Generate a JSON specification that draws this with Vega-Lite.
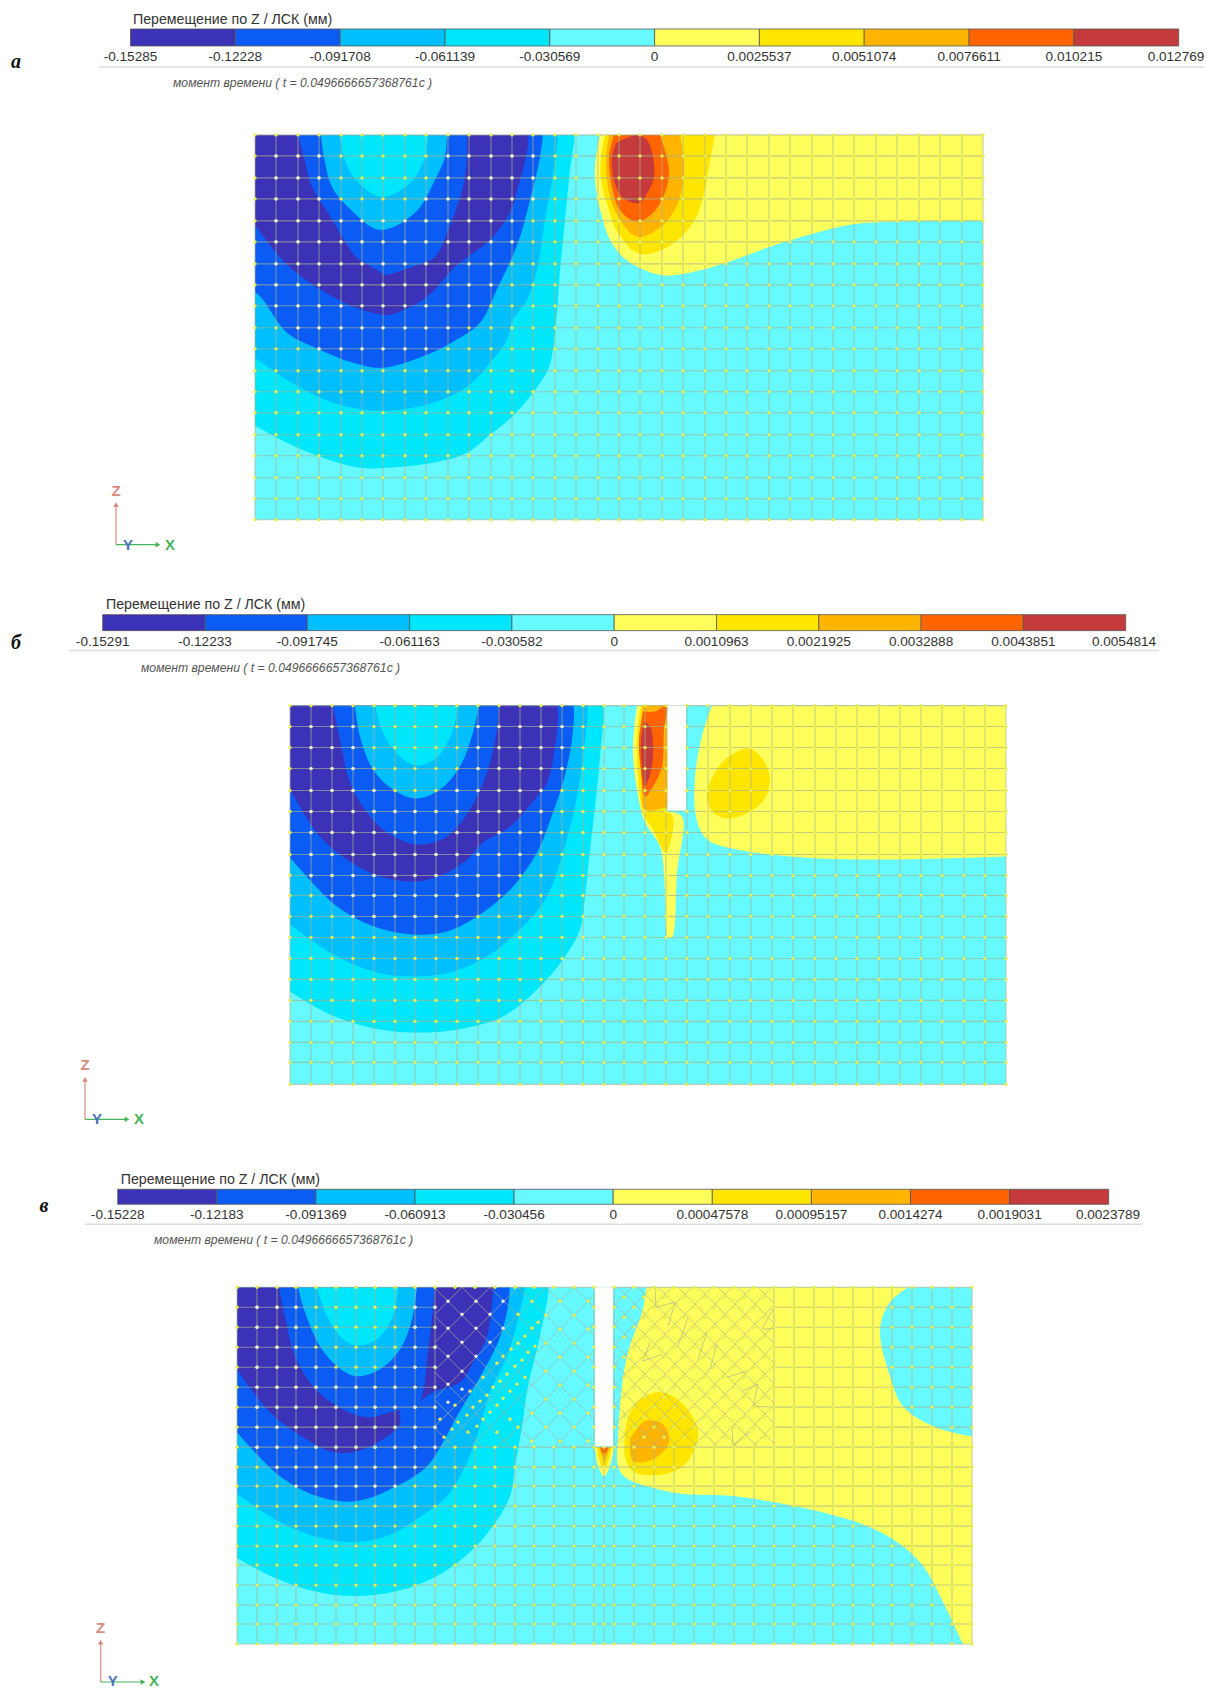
{
"$schema":"https://vega.github.io/schema/vega-lite/v6.json",
"width":1207,"height":1689,"autosize":{"type":"fit","contains":"padding"},"padding":0,"background":"white",
"config":{"view":{"stroke":null}},
"datasets":{
"plates":[{"band":"d5","x":255,"x2":983,"y":135,"y2":520},{"band":"d5","x":290,"x2":1006,"y":706,"y2":1085},{"band":"d5","x":237,"x2":972,"y":1288,"y2":1645}],
"bands":[
{"id":"a1","band":"d4","x":[255,572,574,570,565,560,558,555,553,548,533,512,490,467,433,387,360,320,287,255],"y":[135,135,135,170,220,270,300,333,350,370,393,417,435,453,463,468,468,457,443,426]},
{"id":"a2","band":"d3","x":[255,555,557,552,545,537,527,513,507,490,467,433,387,353,320,287,255],"y":[135,135,135,180,220,270,300,320,340,363,387,403,411,408,398,380,358]},
{"id":"a3","band":"d2","x":[255,540,542,540,530,518,498,480,453,427,383,353,320,287,263,255],"y":[135,135,135,157,200,243,287,323,342,355,368,363,350,333,300,292]},
{"id":"a4","band":"d1","x":[255,526,528,526,518,510,490,455,427,391,383,356,316,285,255],"y":[135,135,135,157,187,213,240,267,297,315,315,308,287,263,225]},
{"id":"a5","band":"d2","x":[298,304,312,328,344,356,380,384,410,435,447,463,467,467],"y":[135,157,187,213,240,257,272,275,268,257,233,187,157,135]},
{"id":"a6","band":"d3","x":[321,324,332,348,380,415,435,445,447],"y":[135,157,187,207,230,213,180,157,135]},
{"id":"a7","band":"d4","x":[340,344,356,382,411,425,428],"y":[135,157,180,197,182,157,135]},
{"id":"a8","band":"u1","x":[983,603,601,596,595,601,610,626,659,684,726,767,809,850,891,983],"y":[135,135,135,157,180,213,240,260,275,274,263,248,235,225,222,221]},
{"id":"a9","band":"u2","x":[605,601,601,608,618,639,668,693,703,709,715],"y":[135,157,180,207,233,254,247,223,197,167,135]},
{"id":"a10","band":"u3","x":[609,606,608,616,637,661,678,684,682,680],"y":[135,157,187,213,237,227,203,173,147,135]},
{"id":"a11","band":"u4","x":[614,609,612,620,637,653,666,669,664,660],"y":[135,157,187,210,222,213,190,170,147,135]},
{"id":"a12","band":"u5","x":[616,637,647,653,654,649,639,622,614,612,616],"y":[143,135,140,157,177,190,203,197,180,157,143]},
{"id":"b1","band":"d4","x":[290,601,603,600,595,590,585,580,563,537,503,457,410,370,330,290],"y":[706,706,706,757,807,850,897,930,960,990,1017,1030,1033,1028,1015,992]},
{"id":"b2","band":"d3","x":[290,585,587,583,575,563,547,523,487,450,413,377,337,290],"y":[706,706,706,757,807,853,897,927,957,973,977,973,957,925]},
{"id":"b3","band":"d2","x":[290,571,573,572,563,553,537,513,483,447,413,377,337,290],"y":[706,706,706,740,783,813,853,887,913,932,935,928,907,858]},
{"id":"b4","band":"d1","x":[290,555,557,557,547,537,510,483,467,443,417,380,350,320,290],"y":[706,706,706,733,783,797,827,843,860,875,882,877,862,837,790]},
{"id":"b5","band":"d2","x":[333,340,350,367,387,417,447,470,487,497,499],"y":[706,740,783,813,833,845,837,810,773,730,706]},
{"id":"b6","band":"d3","x":[355,360,373,393,416,440,460,473,479],"y":[706,737,770,790,799,790,767,733,706]},
{"id":"b7","band":"d4","x":[375,383,400,417,437,453,458],"y":[706,733,757,766,758,730,706]},
{"id":"b8","band":"u1","x":[1006,715,713,702,695,695,700,710,737,770,820,893,1006],"y":[706,706,706,737,777,810,830,842,850,855,859,860,857]},
{"id":"b9","band":"u2","x":[708,723,748,763,770,762,730,713,707,708],"y":[787,762,749,760,780,803,819,813,797,787]},
{"id":"b10","band":"u1","x":[667,640,638,634,633,637,645,660,665,668,672,677,682,667],"y":[706,706,706,730,757,790,823,847,890,938,938,873,817,812]},
{"id":"b11","band":"u2","x":[667,644,642,637,638,643,653,666,673,667],"y":[706,706,706,740,777,813,830,853,817,812]},
{"id":"b12","band":"u3","x":[643,640,642,645,666,667,667],"y":[706,740,783,810,808,808,706]},
{"id":"b13","band":"u4","x":[643,655,662,667,664,662,653,645,641,639,643],"y":[712,712,708,706,730,767,787,797,773,740,712]},
{"id":"b14","band":"u5","x":[644,650,653,652,645,642,641,644],"y":[722,727,743,767,787,767,740,722]},
{"id":"c1","band":"d4","x":[237,546,548,540,528,522,515,510,493,470,437,397,353,313,273,237],"y":[1288,1288,1288,1337,1387,1427,1467,1497,1527,1553,1577,1592,1597,1592,1578,1559]},
{"id":"c2","band":"d3","x":[237,522,524,518,507,490,480,467,447,420,387,353,317,280,237],"y":[1288,1288,1288,1320,1357,1393,1427,1463,1497,1518,1537,1543,1538,1523,1495]},
{"id":"c3","band":"d2","x":[237,507,509,507,498,477,457,443,427,397,357,320,280,237],"y":[1288,1288,1288,1313,1343,1383,1417,1443,1467,1487,1502,1498,1477,1433]},
{"id":"c4","band":"d1","x":[237,491,493,492,487,475,460,433,413,400,400,383,357,333,303,270,237],"y":[1288,1288,1288,1303,1337,1360,1383,1393,1407,1412,1425,1440,1452,1453,1438,1413,1370]},
{"id":"c5","band":"d2","x":[279,285,295,313,337,367,393,417,423,428,433,435],"y":[1288,1317,1357,1387,1407,1418,1412,1407,1393,1353,1310,1288]},
{"id":"c6","band":"d3","x":[298,305,320,337,356,380,400,412,417],"y":[1288,1313,1347,1367,1377,1370,1350,1320,1288]},
{"id":"c7","band":"d4","x":[317,327,343,357,377,393,398],"y":[1288,1317,1340,1346,1340,1317,1288]},
{"id":"c8","band":"u1","x":[908,649,647,643,628,622,618,618,625,650,683,733,767,817,867,900,923,940,962,963,964,971,972,972,972,972,971,933,903,890,880,890,908],"y":[1288,1288,1288,1310,1353,1387,1437,1467,1478,1488,1495,1497,1502,1512,1527,1545,1567,1597,1643,1645,1645,1645,1645,1644,1438,1437,1437,1427,1407,1377,1330,1303,1288]},
{"id":"c9","band":"u2","x":[625,633,657,680,697,697,683,657,633,625,625],"y":[1433,1407,1393,1402,1427,1443,1467,1476,1472,1457,1433]},
{"id":"c10","band":"u3","x":[630,645,663,669,653,633,630],"y":[1440,1422,1425,1443,1460,1462,1440]},
{"id":"c11","band":"u1","x":[595,598,604,610,614],"y":[1448,1467,1477,1467,1448]},
{"id":"c12","band":"u2","x":[597,600,604,608,612],"y":[1448,1463,1470,1463,1448]},
{"id":"c13","band":"u3","x":[599,602,604,607,610],"y":[1448,1457,1463,1457,1448]},
{"id":"c14","band":"u4","x":[600,604,609],"y":[1448,1455,1448]}
],
"verticals":[
{"x":[255,276,298,319,341,362,383,405,426,448,469,491,512,533,555,576,598,619,640,662,683,705,726,747,769,790,812,833,854,876,897,919,940,962,983],"y":135,"y2":520},
{"x":[290,311,332,353,374,395,415,436,457,478,499,520,541,562,583,604,624,645,666,687,708,730,751,772,793,815,836,857,879,900,921,942,964,985,1006],"y":706,"y2":1085},
{"x":[237,257,277,296,316,336,356,375,395,415,435,774,794,814,833,853,873,892,912,932,952,972],"y":1288,"y2":1645},
{"x":[455,475,495,515,534,554,574,594,604,614,634,654,674,694,714,734,754],"y":1448,"y2":1645},
{"x":[594,614],"y":1288,"y2":1448}
],
"horizontals":[
{"y":[135,156,178,199,221,242,264,285,306,328,349,371,392,413,435,456,478,499,520],"x":255,"x2":983},
{"y":[706,727,748,769,791,812,833,855,876,896,917,938,959,980,1001,1022,1043,1063,1085],"x":290,"x2":1006},
{"y":[1288,1308,1328,1348,1368,1388,1408,1428],"x":237,"x2":435},
{"y":[1288,1308,1328,1348,1368,1388,1408,1428],"x":774,"x2":972},
{"y":[1448,1468,1487,1507,1527,1547,1566,1586,1606,1625,1645],"x":237,"x2":972},
{"y":[1288],"x":435,"x2":774}
],
"diagonals":[
{"x":574,"y":1288,"x2":594,"y2":1308},{"x":546,"y":1288,"x2":594,"y2":1336},{"x":518,"y":1288,"x2":594,"y2":1364},{"x":490,"y":1288,"x2":594,"y2":1392},{"x":462,"y":1288,"x2":594,"y2":1420},{"x":435,"y":1289,"x2":593,"y2":1447},{"x":435,"y":1317,"x2":565,"y2":1447},{"x":435,"y":1345,"x2":537,"y2":1447},{"x":435,"y":1373,"x2":509,"y2":1447},{"x":435,"y":1401,"x2":481,"y2":1447},{"x":435,"y":1429,"x2":453,"y2":1447},
{"x":435,"y":1315,"x2":462,"y2":1288},{"x":435,"y":1343,"x2":490,"y2":1288},{"x":435,"y":1371,"x2":518,"y2":1288},{"x":435,"y":1399,"x2":546,"y2":1288},{"x":435,"y":1427,"x2":574,"y2":1288},{"x":443,"y":1447,"x2":594,"y2":1296},{"x":471,"y":1447,"x2":594,"y2":1324},{"x":499,"y":1447,"x2":594,"y2":1352},{"x":527,"y":1447,"x2":594,"y2":1380},{"x":555,"y":1447,"x2":594,"y2":1408},{"x":583,"y":1447,"x2":594,"y2":1436},
{"x":758,"y":1288,"x2":774,"y2":1304},{"x":738,"y":1288,"x2":774,"y2":1324},{"x":718,"y":1288,"x2":774,"y2":1344},{"x":698,"y":1288,"x2":774,"y2":1364},{"x":678,"y":1288,"x2":774,"y2":1384},{"x":658,"y":1288,"x2":774,"y2":1404},{"x":638,"y":1288,"x2":774,"y2":1424},{"x":618,"y":1288,"x2":774,"y2":1444},{"x":614,"y":1304,"x2":757,"y2":1447},{"x":614,"y":1324,"x2":737,"y2":1447},{"x":614,"y":1344,"x2":717,"y2":1447},{"x":614,"y":1364,"x2":697,"y2":1447},{"x":614,"y":1384,"x2":677,"y2":1447},{"x":614,"y":1404,"x2":657,"y2":1447},{"x":614,"y":1424,"x2":637,"y2":1447},
{"x":614,"y":1306,"x2":632,"y2":1288},{"x":614,"y":1326,"x2":652,"y2":1288},{"x":614,"y":1346,"x2":672,"y2":1288},{"x":614,"y":1366,"x2":692,"y2":1288},{"x":614,"y":1386,"x2":712,"y2":1288},{"x":614,"y":1406,"x2":732,"y2":1288},{"x":614,"y":1426,"x2":752,"y2":1288},{"x":614,"y":1446,"x2":772,"y2":1288},{"x":633,"y":1447,"x2":774,"y2":1306},{"x":653,"y":1447,"x2":774,"y2":1326},{"x":673,"y":1447,"x2":774,"y2":1346},{"x":693,"y":1447,"x2":774,"y2":1366},{"x":713,"y":1447,"x2":774,"y2":1386},{"x":733,"y":1447,"x2":774,"y2":1406},{"x":753,"y":1447,"x2":774,"y2":1426},
{"x":643,"y":1362,"x2":650,"y2":1343},{"x":643,"y":1362,"x2":662,"y2":1355},{"x":707,"y":1333,"x2":698,"y2":1360},{"x":717,"y":1345,"x2":710,"y2":1370},{"x":688,"y":1318,"x2":678,"y2":1347},{"x":675,"y":1303,"x2":668,"y2":1327},{"x":733,"y":1447,"x2":732,"y2":1427},{"x":733,"y":1447,"x2":750,"y2":1433},{"x":753,"y":1407,"x2":773,"y2":1408},{"x":727,"y":1378,"x2":747,"y2":1372},{"x":742,"y":1392,"x2":758,"y2":1385},{"x":758,"y":1385,"x2":753,"y2":1407},{"x":763,"y":1330,"x2":774,"y2":1329},{"x":774,"y":1308,"x2":762,"y2":1330},{"x":655,"y":1288,"x2":656,"y2":1308},{"x":656,"y":1308,"x2":675,"y2":1303}
],
"slots":[{"x":667.5,"x2":686,"y":706,"y2":811},{"x":595,"x2":613,"y":1288,"y2":1447}],
"nodes":[
{"x":[255,276,298,319,341,362,383,405,426,448,469,491,512,533,555,576,598,619,640,662,683,705,726,747,769,790,812,833,854,876,897,919,940,962,983],"y":[135,156,178,199,221,242,264,285,306,328,349,371,392,413,435,456,478,499,520]},
{"x":[290,311,332,353,374,395,415,436,457,478,499,520,541,562,583,604,624,645,666,687,708,730,751,772,793,815,836,857,879,900,921,942,964,985,1006],"y":[706,727,748,769,791,812,833,855,876,896,917,938,959,980,1001,1022,1043,1063,1085]},
{"x":[237,257,277,296,316,336,356,375,395,415,435,774,794,814,833,853,873,892,912,932,952,972],"y":[1288,1308,1328,1348,1368,1388,1408,1428,1448,1468,1487,1507,1527,1547,1566,1586,1606,1625,1645]},
{"x":[455,475,495,515,534,554,574,594,604,614,634,654,674,694,714,734,754],"y":[1448,1468,1487,1507,1527,1547,1566,1586,1606,1625,1645]},
{"x":[594,614],"y":[1288,1308,1328,1348,1368,1388,1408,1428]},
{"x":[455,475,495,515,534,554,574,634,654,674,694,714,734,754],"y":[1288]},
{"x":[560,588],"y":[1302,1330,1358,1386,1414,1442]},
{"x":[546,574],"y":[1316,1344,1372,1400,1428]},
{"x":[532],"y":[1414,1442]},{"x":[518],"y":[1428]},
{"x":[624,644,664,684,704,724,744,764],"y":[1298,1318,1338,1358,1378,1398,1418,1438]},
{"x":[634,654,674,694,714,734,754],"y":[1308,1328,1348,1368,1388,1408,1428]},
{"x":[532],"y":[1302,1329]},{"x":[518],"y":[1315,1344]},{"x":[538],"y":[1323]},{"x":[525],"y":[1337,1378]},{"x":[511],"y":[1350]},{"x":[503],"y":[1357,1399]},{"x":[497],"y":[1364,1406,1433]},{"x":[483],"y":[1378,1420]},{"x":[470],"y":[1392]},{"x":[455],"y":[1406]},{"x":[440],"y":[1420]},{"x":[535],"y":[1347]},{"x":[528],"y":[1353]},{"x":[522],"y":[1361]},{"x":[515],"y":[1367]},{"x":[507],"y":[1375]},{"x":[500],"y":[1382]},{"x":[493],"y":[1388]},{"x":[487],"y":[1396]},{"x":[480],"y":[1402]},{"x":[473],"y":[1408]},{"x":[467],"y":[1416]},{"x":[458],"y":[1423]},{"x":[452],"y":[1430]},{"x":[444],"y":[1438]},{"x":[517],"y":[1385]},{"x":[510],"y":[1392,1420]},{"x":[490],"y":[1413]},{"x":[477],"y":[1427]},{"x":[468],"y":[1433]}
],
"paleNodes":[
{"x":[276,298,319,448,469,491,512,533],"y":[156,178]},
{"x":[276,298,319,426,448,469,491,512,533],"y":[199]},
{"x":[276,298,319,341,362,383,405,426,448,469,491,512],"y":[221,242]},
{"x":[276,298,319,341,362,383,405,426,448,469,491],"y":[264,285]},
{"x":[276,298,319,341,362,383,405,426,448,469],"y":[306]},
{"x":[298,319,341,362,383,405,426,448],"y":[328]},
{"x":[319,341,362,383,405,426],"y":[349]},
{"x":[311,332,353,478,499,520,541,562],"y":[727,748,769]},
{"x":[311,332,353,374,457,478,499,520,541],"y":[791]},
{"x":[311,332,353,374,395,415,436,457,478,499,520,541],"y":[812,833]},
{"x":[311,332,353,374,395,415,436,457,478,499,520],"y":[855]},
{"x":[311,332,353,374,395,415,436,457,478,499],"y":[876]},
{"x":[332,353,374,395,415,436,457,478],"y":[896]},
{"x":[353,374,395,415,436,457],"y":[917]},
{"x":[257,277,296,415,435],"y":[1308,1328,1348]},
{"x":[257,277,296,316,395,415,435],"y":[1368]},
{"x":[257,277,296,316,336,356,375,395,415,435],"y":[1388,1408,1428,1448]},
{"x":[277,296,316,336,356,375,395,415],"y":[1468]},
{"x":[296,316,336,356,375,395],"y":[1487]},
{"x":[448,476,503],"y":[1302,1329]},
{"x":[462,490],"y":[1315,1343]},
{"x":[448,476],"y":[1357]},
{"x":[462],"y":[1372,1390]},
{"x":[448],"y":[1385,1403]}
],
"barSegments":[
{"band":"d1","x":130.5,"x2":235.3,"y":29,"y2":46},{"band":"d2","x":235.3,"x2":340.1,"y":29,"y2":46},{"band":"d3","x":340.1,"x2":445,"y":29,"y2":46},{"band":"d4","x":445,"x2":549.8,"y":29,"y2":46},{"band":"d5","x":549.8,"x2":654.6,"y":29,"y2":46},{"band":"u1","x":654.6,"x2":759.4,"y":29,"y2":46},{"band":"u2","x":759.4,"x2":864.2,"y":29,"y2":46},{"band":"u3","x":864.2,"x2":969.1,"y":29,"y2":46},{"band":"u4","x":969.1,"x2":1073.9,"y":29,"y2":46},{"band":"u5","x":1073.9,"x2":1178.7,"y":29,"y2":46},
{"band":"d1","x":102.7,"x2":205,"y":615,"y2":631},{"band":"d2","x":205,"x2":307.3,"y":615,"y2":631},{"band":"d3","x":307.3,"x2":409.6,"y":615,"y2":631},{"band":"d4","x":409.6,"x2":511.9,"y":615,"y2":631},{"band":"d5","x":511.9,"x2":614.2,"y":615,"y2":631},{"band":"u1","x":614.2,"x2":716.5,"y":615,"y2":631},{"band":"u2","x":716.5,"x2":818.8,"y":615,"y2":631},{"band":"u3","x":818.8,"x2":921.1,"y":615,"y2":631},{"band":"u4","x":921.1,"x2":1023.4,"y":615,"y2":631},{"band":"u5","x":1023.4,"x2":1125.7,"y":615,"y2":631},
{"band":"d1","x":117.7,"x2":216.8,"y":1190,"y2":1205},{"band":"d2","x":216.8,"x2":315.9,"y":1190,"y2":1205},{"band":"d3","x":315.9,"x2":415,"y":1190,"y2":1205},{"band":"d4","x":415,"x2":514.1,"y":1190,"y2":1205},{"band":"d5","x":514.1,"x2":613.2,"y":1190,"y2":1205},{"band":"u1","x":613.2,"x2":712.3,"y":1190,"y2":1205},{"band":"u2","x":712.3,"x2":811.4,"y":1190,"y2":1205},{"band":"u3","x":811.4,"x2":910.5,"y":1190,"y2":1205},{"band":"u4","x":910.5,"x2":1009.6,"y":1190,"y2":1205},{"band":"u5","x":1009.6,"x2":1108.7,"y":1190,"y2":1205}
],
"barLabels":[
{"x":130.5,"y":57,"t":"-0.15285"},{"x":235.3,"y":57,"t":"-0.12228"},{"x":340.1,"y":57,"t":"-0.091708"},{"x":445,"y":57,"t":"-0.061139"},{"x":549.8,"y":57,"t":"-0.030569"},{"x":654.6,"y":57,"t":"0"},{"x":759.4,"y":57,"t":"0.0025537"},{"x":864.2,"y":57,"t":"0.0051074"},{"x":969.1,"y":57,"t":"0.0076611"},{"x":1073.9,"y":57,"t":"0.010215"},{"x":1176,"y":57,"t":"0.012769"},
{"x":102.7,"y":642,"t":"-0.15291"},{"x":205,"y":642,"t":"-0.12233"},{"x":307.3,"y":642,"t":"-0.091745"},{"x":409.6,"y":642,"t":"-0.061163"},{"x":511.9,"y":642,"t":"-0.030582"},{"x":614.2,"y":642,"t":"0"},{"x":716.5,"y":642,"t":"0.0010963"},{"x":818.8,"y":642,"t":"0.0021925"},{"x":921.1,"y":642,"t":"0.0032888"},{"x":1023.4,"y":642,"t":"0.0043851"},{"x":1124,"y":642,"t":"0.0054814"},
{"x":117.7,"y":1216,"t":"-0.15228"},{"x":216.8,"y":1216,"t":"-0.12183"},{"x":315.9,"y":1216,"t":"-0.091369"},{"x":415,"y":1216,"t":"-0.060913"},{"x":514.1,"y":1216,"t":"-0.030456"},{"x":613.2,"y":1216,"t":"0"},{"x":712.3,"y":1216,"t":"0.00047578"},{"x":811.4,"y":1216,"t":"0.00095157"},{"x":910.5,"y":1216,"t":"0.0014274"},{"x":1009.6,"y":1216,"t":"0.0019031"},{"x":1108,"y":1216,"t":"0.0023789"}
],
"barRules":[{"x":99,"x2":1204,"y":67},{"x":69,"x2":1159,"y":651},{"x":85,"x2":1142,"y":1225}],
"titles":[{"x":133,"y":20,"t":"Перемещение по Z / ЛСК (мм)"},{"x":106,"y":605,"t":"Перемещение по Z / ЛСК (мм)"},{"x":120.7,"y":1181,"t":"Перемещение по Z / ЛСК (мм)"}],
"times":[{"x":173,"y":83,"t":"момент времени ( t = 0.0496666657368761c )"},{"x":141,"y":668,"t":"момент времени ( t = 0.0496666657368761c )"},{"x":154,"y":1241,"t":"момент времени ( t = 0.0496666657368761c )"}],
"letters":[{"x":16,"y":62,"t":"а"},{"x":16,"y":643,"t":"б"},{"x":44,"y":1207,"t":"в"}],
"triadLines":[
{"axis":"Z","x":116,"y":545,"x2":116,"y2":505},{"axis":"X","x":116,"y":545,"x2":158,"y2":545},
{"axis":"Z","x":85,"y":1120,"x2":85,"y2":1080},{"axis":"X","x":85,"y":1120,"x2":127,"y2":1120},
{"axis":"Z","x":100.7,"y":1683,"x2":100.7,"y2":1643},{"axis":"X","x":100.7,"y":1683,"x2":143,"y2":1683}
],
"triadTips":[
{"axis":"Z","x":116,"y":505},{"axis":"X","x":158,"y":545},{"axis":"Z","x":85,"y":1080},{"axis":"X","x":127,"y":1120},{"axis":"Z","x":100.7,"y":1643},{"axis":"X","x":143,"y":1683}
],
"triadText":[
{"axis":"Z","x":116,"y":491},{"axis":"Y","x":128,"y":545},{"axis":"X","x":170,"y":545},
{"axis":"Z","x":85,"y":1066},{"axis":"Y","x":97,"y":1120},{"axis":"X","x":139,"y":1120},
{"axis":"Z","x":100.7,"y":1629},{"axis":"Y","x":112.7,"y":1682},{"axis":"X","x":154,"y":1682}
]
},
"encoding":{
"x":{"field":"x","type":"quantitative","axis":null,"scale":{"domain":[0,1207],"nice":false,"zero":false}},
"y":{"field":"y","type":"quantitative","axis":null,"scale":{"domain":[1689,0],"nice":false,"zero":false}}
},
"layer":[
{"data":{"name":"plates"},"mark":{"type":"rect"},"encoding":{"x2":{"field":"x2"},"y2":{"field":"y2"},
  "fill":{"field":"band","type":"nominal","legend":null,"scale":{"domain":["d1","d2","d3","d4","d5","u1","u2","u3","u4","u5"],"range":["#3b32b8","#0a5cf5","#00bfff","#00e6fa","#66f9ff","#ffff5c","#ffe600","#ffb400","#ff6400","#c53a3a"]}}}},
{"data":{"name":"bands"},"transform":[{"flatten":["x","y"]},{"window":[{"op":"row_number","as":"vertex"}],"groupby":["id"]}],
 "mark":{"type":"line","strokeWidth":0,"filled":true,"interpolate":"catmull-rom"},
 "encoding":{"detail":{"field":"id"},"order":{"field":"vertex","type":"quantitative"},
  "fill":{"field":"band","type":"nominal","legend":null}}},
{"data":{"name":"verticals"},"transform":[{"flatten":["x"]}],"mark":{"type":"rule","stroke":"#a8b090","strokeOpacity":0.65,"strokeWidth":1.1},"encoding":{"y2":{"field":"y2"}}},
{"data":{"name":"horizontals"},"transform":[{"flatten":["y"]}],"mark":{"type":"rule","stroke":"#a8b090","strokeOpacity":0.65,"strokeWidth":1.1},"encoding":{"x2":{"field":"x2"}}},
{"data":{"name":"diagonals"},"mark":{"type":"rule","stroke":"#a8b090","strokeOpacity":0.65,"strokeWidth":1},"encoding":{"x2":{"field":"x2"},"y2":{"field":"y2"}}},
{"data":{"name":"slots"},"mark":{"type":"rect","fill":"white"},"encoding":{"x2":{"field":"x2"},"y2":{"field":"y2"}}},
{"data":{"name":"nodes"},"transform":[{"flatten":["x"]},{"flatten":["y"]}],"mark":{"type":"point","filled":true,"fill":"#e6ee50","opacity":1,"size":11,"shape":"circle"}},
{"data":{"name":"paleNodes"},"transform":[{"flatten":["x"]},{"flatten":["y"]}],"mark":{"type":"point","filled":true,"fill":"#e8ecd8","opacity":1,"size":11,"shape":"circle"}},
{"data":{"name":"barSegments"},"mark":{"type":"rect","stroke":"#555555","strokeWidth":0.8},"encoding":{"x2":{"field":"x2"},"y2":{"field":"y2"},"fill":{"field":"band","type":"nominal","legend":null}}},
{"data":{"name":"barRules"},"mark":{"type":"rule","stroke":"#dddddd","strokeWidth":1.5},"encoding":{"x2":{"field":"x2"}}},
{"data":{"name":"barLabels"},"mark":{"type":"text","font":"Liberation Sans","fontSize":13.6,"fill":"#333333","align":"center","baseline":"middle"},"encoding":{"text":{"field":"t"}}},
{"data":{"name":"titles"},"mark":{"type":"text","font":"Liberation Sans","fontSize":14.2,"fill":"#333333","align":"left","baseline":"middle"},"encoding":{"text":{"field":"t"}}},
{"data":{"name":"times"},"mark":{"type":"text","font":"Liberation Sans","fontStyle":"italic","fontSize":12.2,"fill":"#555555","align":"left","baseline":"middle"},"encoding":{"text":{"field":"t"}}},
{"data":{"name":"letters"},"mark":{"type":"text","font":"Liberation Serif","fontStyle":"italic","fontWeight":"bold","fontSize":20,"fill":"#111111","align":"center","baseline":"middle"},"encoding":{"text":{"field":"t"}}},
{"data":{"name":"triadLines"},"mark":{"type":"rule","strokeWidth":1.2},"encoding":{"x2":{"field":"x2"},"y2":{"field":"y2"},"color":{"field":"axis","type":"nominal","legend":null,"scale":{"domain":["Z","X","Y"],"range":["#d98a7e","#46b45a","#4a70c0"]}}}},
{"data":{"name":"triadTips"},"mark":{"type":"point","filled":true,"opacity":1,"size":30},"encoding":{"color":{"field":"axis","type":"nominal","legend":null},"shape":{"field":"axis","type":"nominal","legend":null,"scale":{"domain":["Z","X"],"range":["triangle-up","triangle-right"]}}}},
{"data":{"name":"triadText"},"mark":{"type":"text","font":"Liberation Sans","fontSize":15,"fontWeight":"bold","align":"center","baseline":"middle"},"encoding":{"text":{"field":"axis"},"color":{"field":"axis","type":"nominal","legend":null}}}
]
}
